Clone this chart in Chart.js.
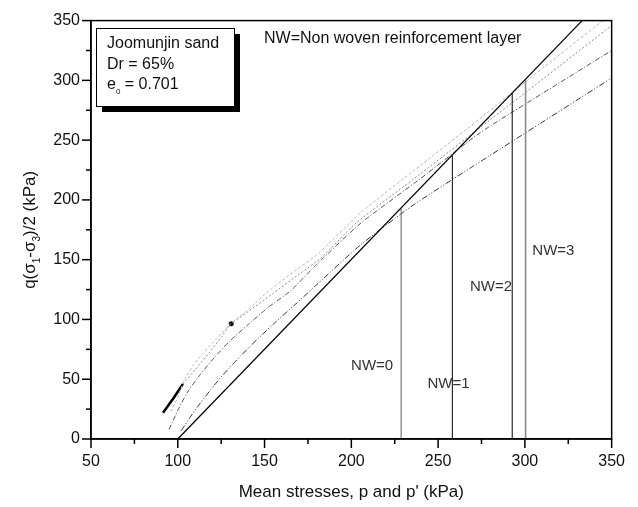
<!DOCTYPE html>
<html>
<head>
<meta charset="utf-8">
<script src="https://cdn.jsdelivr.net/npm/chart.js@4.4.1/dist/chart.umd.min.js"></script>
<style>
  html, body { margin: 0; padding: 0; background: #fff; }
</style>
</head>
<body>
<canvas id="stress-chart" width="638" height="507"></canvas>
<script>
// axis ticks (labels only on these values, minor ticks every 25)
const xTickLabels = [50, 100, 150, 200, 250, 300, 350];
const yTickLabels = [0, 50, 100, 150, 200, 250, 300, 350];

// total stress path
const tspP = [100, 333];
const tspQ = [0, 350];

// vertical markers where each test ends on the total stress path
const nwNames = ["NW=0", "NW=1", "NW=2", "NW=3"];
const nwP = [228.7, 258.2, 292.7, 300.4];
const nwQ = [193, 237, 289, 300];

// effective stress paths
const esp1P = [96, 100, 104, 109, 114, 123, 131, 142, 150, 165, 180, 206, 240, 275, 310, 345];
const esp1Q = [23, 35, 50, 62, 71, 85, 97, 110, 121, 138, 154, 190, 229, 269, 310, 350];

const esp2P = [91.5, 97, 103, 110, 118, 125, 130.8, 140, 155, 170, 183, 203, 240, 280, 320, 350];
const esp2Q = [22, 33, 46, 58, 72, 85, 96.5, 106, 122, 138, 152, 181, 222, 267, 312, 346];

const esp3P = [95, 100, 106, 113, 121, 130, 140, 152, 165, 180, 205, 240, 274, 310, 350];
const esp3Q = [8, 24, 40, 54, 68, 82, 95, 110, 124, 146, 180, 218, 256, 289, 325];

const esp4P = [102, 107, 113, 121, 130, 142, 155, 168, 180, 205, 235, 270, 310, 350];
const esp4Q = [7, 18, 30, 45, 60, 78, 96, 113, 129, 162, 195, 228, 265, 302];

function toPoints(ps, qs) {
    return ps.map((p, i) => ({ x: p, y: qs[i] }));
}

const FONT = "Arial, 'Liberation Sans', sans-serif";

// text notes placed in data coordinates
const notes = [
    { text: "NW=0", p: 212, q: 61 },
    { text: "NW=1", p: 256, q: 46 },
    { text: "NW=2", p: 280.5, q: 127 },
    { text: "NW=3", p: 316.4, q: 157 },
];

const nwColors = ["#7a7a7a", "#000000", "#000000", "#8a8a8a"];
const nwWidths = [1.2, 1, 1, 1.6];

const datasets = [];

datasets.push({
    label: "Total stress path",
    data: toPoints(tspP, tspQ),
    borderColor: "#000",
    borderWidth: 1.3,
    pointRadius: 0,
});

nwP.forEach((p, i) => {
    datasets.push({
        label: nwNames[i],
        data: [{ x: p, y: 0 }, { x: p, y: nwQ[i] }],
        borderColor: nwColors[i],
        borderWidth: nwWidths[i],
        pointRadius: 0,
    });
});

datasets.push({
    label: "ESP 1",
    data: toPoints(esp1P, esp1Q),
    borderColor: "#b8b8b8",
    borderWidth: 1,
    borderDash: [3, 2],
    pointRadius: 0,
    tension: 0.2,
});
datasets.push({
    label: "ESP 2",
    data: toPoints(esp2P, esp2Q),
    borderColor: "#8c8c8c",
    borderWidth: 1,
    borderDash: [2, 2],
    pointRadius: (c) => (c.dataIndex === 6 ? 2.5 : 0),
    pointBackgroundColor: "#000",
    pointBorderWidth: 0,
    tension: 0.2,
    segment: {
        borderColor: (c) => (c.p0DataIndex < 2 ? "#000" : undefined),
        borderDash: (c) => (c.p0DataIndex < 2 ? [] : undefined),
        borderWidth: (c) => (c.p0DataIndex < 2 ? 2.5 : undefined),
    },
});
datasets.push({
    label: "ESP 3",
    data: toPoints(esp3P, esp3Q),
    borderColor: "#555",
    borderWidth: 1,
    borderDash: [5, 2, 1, 2],
    pointRadius: 0,
    tension: 0.2,
});
datasets.push({
    label: "ESP 4",
    data: toPoints(esp4P, esp4Q),
    borderColor: "#333",
    borderWidth: 1,
    borderDash: [6, 2, 1, 2, 1, 2],
    pointRadius: 0,
    tension: 0.2,
});

// frame, tick marks, titles and the notes
const decorations = {
    id: "decorations",
    afterDatasetsDraw(chart) {
        const { ctx, chartArea: a, scales } = chart;
        const xs = scales.x;
        const ys = scales.y;
        ctx.save();

        ctx.strokeStyle = "#000";
        ctx.lineWidth = 1.5;
        ctx.strokeRect(a.left, a.top, a.right - a.left, a.bottom - a.top);

        xs.ticks.forEach((t) => {
            const x = xs.getPixelForValue(t.value);
            const len = xTickLabels.includes(t.value) ? 9 : 5;
            ctx.beginPath();
            ctx.moveTo(x, a.bottom);
            ctx.lineTo(x, a.bottom + len);
            ctx.stroke();
        });
        ys.ticks.forEach((t) => {
            const y = ys.getPixelForValue(t.value);
            const len = yTickLabels.includes(t.value) ? 9 : 5;
            ctx.beginPath();
            ctx.moveTo(a.left, y);
            ctx.lineTo(a.left - len, y);
            ctx.stroke();
        });

        // notes
        ctx.fillStyle = "#333";
        ctx.font = "15px " + FONT;
        ctx.textAlign = "center";
        ctx.textBaseline = "middle";
        notes.forEach((n) => {
            ctx.fillText(n.text, xs.getPixelForValue(n.p), ys.getPixelForValue(n.q));
        });

        ctx.fillStyle = "#111";
        ctx.font = "16px " + FONT;
        ctx.textAlign = "left";
        ctx.fillText("NW=Non woven reinforcement layer", 264, 39);

        // info box with shadow
        const bx = 96, by = 28, bw = 138, bh = 78;
        ctx.fillStyle = "#000";
        ctx.fillRect(bx + 6, by + 6, bw, bh);
        ctx.fillStyle = "#fff";
        ctx.fillRect(bx, by, bw, bh);
        ctx.lineWidth = 1;
        ctx.strokeRect(bx + 0.5, by + 0.5, bw, bh);
        ctx.fillStyle = "#111";
        ctx.font = "16px " + FONT;
        ctx.fillText("Joomunjin sand", 107, 44);
        ctx.fillText("Dr = 65%", 107, 65);
        ctx.fillText("e", 107, 85);
        const w = ctx.measureText("e").width;
        ctx.font = "8px " + FONT;
        ctx.fillText("0", 107 + w, 92);
        const w0 = ctx.measureText("0").width;
        ctx.font = "16px " + FONT;
        ctx.fillText(" = 0.701", 107 + w + w0, 85);

        // x title
        ctx.font = "17px " + FONT;
        ctx.textAlign = "center";
        ctx.fillStyle = "#111";
        ctx.fillText("Mean stresses, p and p' (kPa)", (a.left + a.right) / 2, 492);

        // y title with subscripts
        const parts = [
            ["q(\u03c3", false], ["1", true], ["-\u03c3", false], ["3", true], [")/2 (kPa)", false],
        ];
        const fontFor = (sub) => (sub ? "10px " : "17px ") + FONT;
        let total = 0;
        parts.forEach(([t, sub]) => { ctx.font = fontFor(sub); total += ctx.measureText(t).width; });
        ctx.translate(30, (a.top + a.bottom) / 2);
        ctx.rotate(-Math.PI / 2);
        ctx.textAlign = "left";
        let cx = -total / 2;
        parts.forEach(([t, sub]) => {
            ctx.font = fontFor(sub);
            ctx.fillText(t, cx, sub ? 7 : 0);
            cx += ctx.measureText(t).width;
        });
        ctx.restore();
    },
};

const chartCanvas = document.getElementById("stress-chart");
const stressChart = new Chart(chartCanvas, {
    type: "line",
    data: { datasets: datasets },
    options: {
        responsive: false,
        devicePixelRatio: 1,
        animation: false,
        events: [],
        layout: { padding: { top: 17, right: 25, left: 0, bottom: 0 } },
        plugins: {
            legend: { display: false },
            tooltip: { enabled: false },
        },
        scales: {
            x: {
                type: "linear",
                min: 50,
                max: 350,
                afterFit: (s) => { s.height = 68; },
                grid: { display: false, drawTicks: false },
                border: { display: true, color: "#000", width: 1.5 },
                ticks: {
                    stepSize: 25,
                    padding: 13,
                    color: "#111",
                    font: { family: FONT, size: 16 },
                    maxRotation: 0,
                    autoSkip: false,
                    callback: (v) => (xTickLabels.includes(v) ? String(v) : ""),
                },
            },
            y: {
                type: "linear",
                min: 0,
                max: 350,
                afterFit: (s) => { s.width = 91; },
                grid: { display: false, drawTicks: false },
                border: { display: true, color: "#000", width: 1.5 },
                ticks: {
                    stepSize: 25,
                    padding: 11,
                    color: "#111",
                    font: { family: FONT, size: 16 },
                    autoSkip: false,
                    callback: (v) => (yTickLabels.includes(v) ? String(v) : ""),
                },
            },
        },
    },
    plugins: [decorations],
});
</script>
</body>
</html>
